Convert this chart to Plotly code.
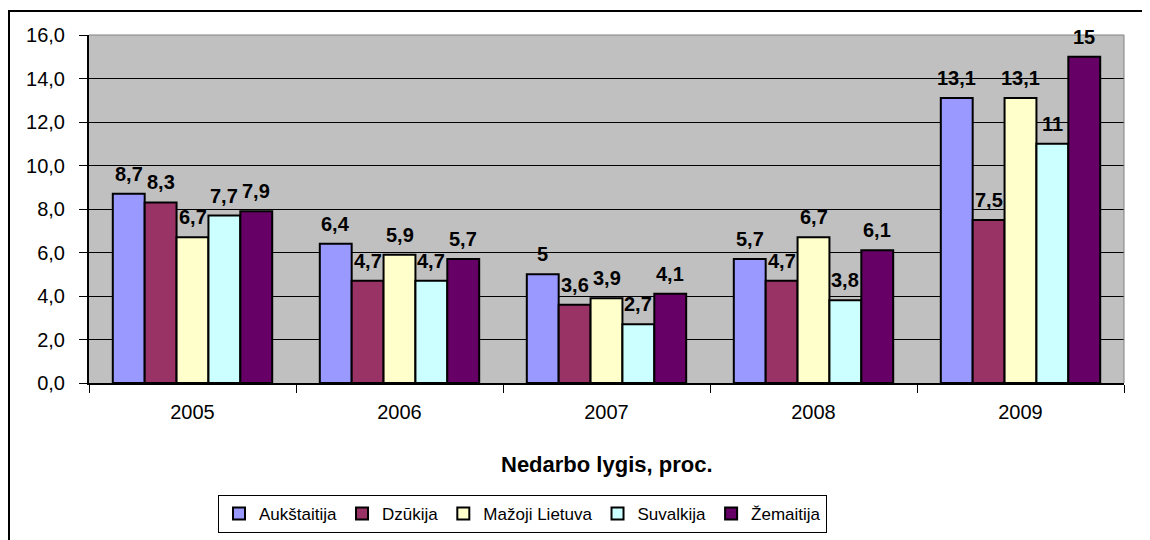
import plotly.graph_objects as go

# Nedarbo lygis pagal regionus
years = ["2005", "2006", "2007", "2008", "2009"]
regions = ["Aukštaitija", "Dzūkija", "Mažoji Lietuva", "Suvalkija", "Žemaitija"]
aukstaitija = [8.7, 6.4, 5.0, 5.7, 13.1]
dzukija = [8.3, 4.7, 3.6, 4.7, 7.5]
mazoji_lietuva = [6.7, 5.9, 3.9, 6.7, 13.1]
suvalkija = [7.7, 4.7, 2.7, 3.8, 11.0]
zemaitija = [7.9, 5.7, 4.1, 6.1, 15.0]
colors = ["#9999FF", "#993366", "#FFFFCC", "#CCFFFF", "#660066"]

series = [aukstaitija, dzukija, mazoji_lietuva, suvalkija, zemaitija]


def lt(v):
    # 8.7 -> "8,7", 5.0 -> "5"
    return ("%g" % v).replace(".", ",")


# page has an 8px body margin, so screen pos = figure pos + 8
W, H = 1150, 540
off = 8
L, T = 89 - off, 35 - off
R = W - (1124 - off)
B = H - (383 - off)
pw, ph = W - L - R, H - T - B
gap = 0.23


def py(screen_y):
    return (T + ph - (screen_y - off)) / ph


def px_(screen_x):
    return (screen_x - off - L) / pw


fig = go.Figure()
for name, vals, c in zip(regions, series, colors):
    fig.add_trace(go.Bar(
        x=years, y=vals, name=name,
        marker=dict(color=c, line=dict(color="black", width=2)),
    ))

# data labels a bit above the bars, like excel does
# (category index for x, string "2005" gets read as a number)
bw = pw / len(years) * (1 - gap) / len(regions)
for i, vals in enumerate(series):
    for j, v in enumerate(vals):
        fig.add_annotation(
            x=j, y=v, text="<b>" + lt(v) + "</b>", showarrow=False,
            xshift=(i - 2) * bw, yshift=7, yanchor="bottom",
            font=dict(family="Arial", size=20, color="black"),
        )

fig.update_layout(
    width=W, height=H,
    margin=dict(l=L, r=R, t=T, b=B, pad=0),
    paper_bgcolor="white",
    plot_bgcolor="#C0C0C0",
    separators=",.",
    barmode="group",
    bargap=gap,
    bargroupgap=0,
    font=dict(family="Arial", size=20, color="black"),
    showlegend=True,
    legend=dict(
        orientation="h",
        x=px_(218), xanchor="left",
        y=py(495), yanchor="top",
        bordercolor="black", borderwidth=1, bgcolor="white",
        font=dict(family="Arial", size=17),
        itemwidth=30, tracegroupgap=0,
    ),
    xaxis=dict(
        type="category", range=[-0.5, len(years) - 0.5],
        showline=True, linecolor="black", linewidth=2,
        ticks="outside", tickson="boundaries", ticklen=8, tickcolor="black",
        tickfont=dict(size=20), ticklabelstandoff=10,
    ),
    yaxis=dict(
        range=[0, 16], dtick=2, tickformat=".1f",
        showgrid=True, gridcolor="black", gridwidth=1,
        showline=True, linecolor="black", linewidth=2,
        ticks="outside", ticklen=8, tickcolor="black",
        tickfont=dict(size=20), ticklabelstandoff=10,
        zeroline=False,
    ),
)

fig.add_annotation(
    text="<b>Nedarbo lygis, proc.</b>", xref="paper", yref="paper",
    x=0.5, y=py(464), xanchor="center", yanchor="middle",
    showarrow=False, font=dict(family="Arial", size=22),
)

# plot area top/right border (grey) and outer chart frame
fig.add_shape(type="line", xref="paper", yref="paper", x0=0, x1=1, y0=1, y1=1,
              line=dict(color="#808080", width=1))
fig.add_shape(type="line", xref="paper", yref="paper", x0=1, x1=1, y0=0, y1=1,
              line=dict(color="#808080", width=1))
fig.add_shape(type="rect", xref="paper", yref="paper",
              x0=px_(9), x1=1.2, y0=-0.6, y1=py(11),
              line=dict(color="black", width=2))

fig.write_html("out.html")
